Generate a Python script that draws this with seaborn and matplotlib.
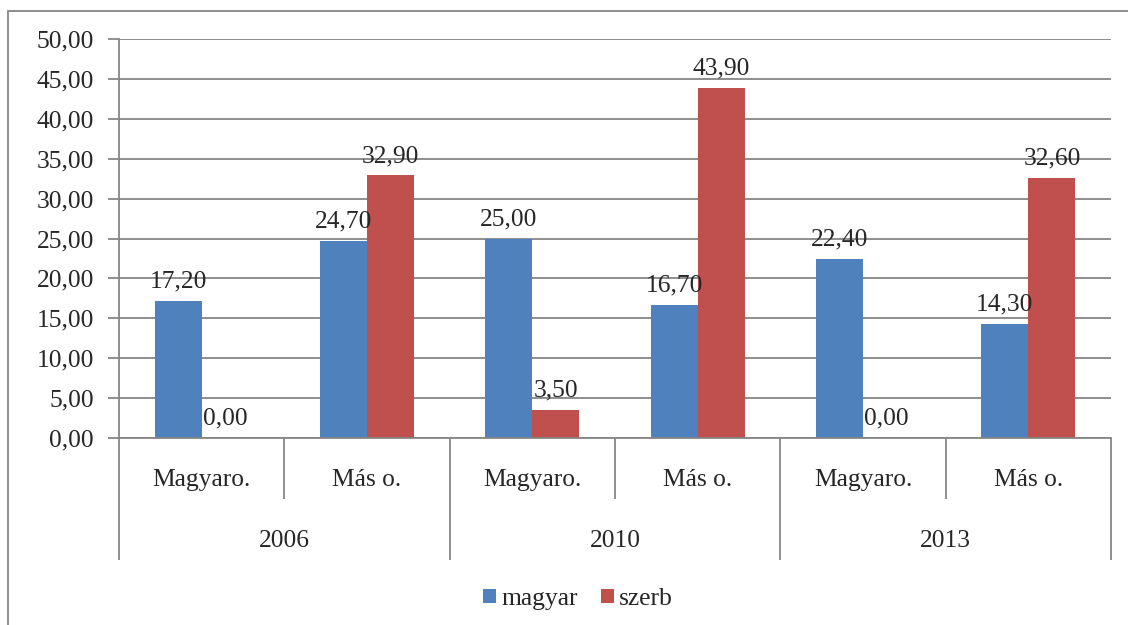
import pandas as pd
import numpy as np
import seaborn as sns
import matplotlib.pyplot as plt
from matplotlib.ticker import FuncFormatter, MultipleLocator
from matplotlib.patches import Rectangle
from matplotlib.transforms import blended_transform_factory

# adatok
years = ["2006", "2010", "2013"]
places = ["Magyaro.", "Más o."]
magyar = [17.20, 24.70, 25.00, 16.70, 22.40, 14.30]
szerb = [0.00, 32.90, 3.50, 43.90, 0.00, 32.60]

cats = [f"{y} {p}" for y in years for p in places]
df = pd.DataFrame({
    "kat": cats * 2,
    "ertek": magyar + szerb,
    "nyelv": ["magyar"] * len(cats) + ["szerb"] * len(cats),
})

sns.set_style("white")
plt.rcParams["font.family"] = ["Liberation Serif", "DejaVu Serif"]
plt.rcParams["font.size"] = 18.4

GRAY = "#868686"
fig = plt.figure(figsize=(11.28, 6.25), dpi=100)
ax = fig.add_axes([119 / 1128, 1 - 438 / 625, (1111 - 119) / 1128, (438 - 39) / 625])

sns.barplot(data=df, x="kat", y="ertek", hue="nyelv", order=cats,
            palette={"magyar": "#4F81BD", "szerb": "#C0504D"},
            saturation=1, width=0.57, linewidth=0, ax=ax)

fmt = lambda v: f"{v:.2f}".replace(".", ",")
for cont in ax.containers:
    ax.bar_label(cont, labels=[fmt(b.get_height()) for b in cont],
                 padding=6, fontsize=18.4)

ax.set_ylim(0, 50)
ax.set_xlim(-0.5, len(cats) - 0.5)
ax.yaxis.set_major_locator(MultipleLocator(5))
ax.yaxis.set_major_formatter(FuncFormatter(lambda v, p: fmt(v)))
ax.grid(axis="y", color=GRAY, lw=1.3)
ax.set_axisbelow(True)
ax.tick_params(axis="y", left=True, length=8, width=1.3, color=GRAY, pad=10, labelsize=18.4)
ax.set_xticks([])
ax.set_xlabel("")
ax.set_ylabel("")
for s in ["top", "right"]:
    ax.spines[s].set_visible(False)
for s in ["left", "bottom"]:
    ax.spines[s].set_color(GRAY)
    ax.spines[s].set_linewidth(1.3)

# tobbszintu kategoriatengely
tr = blended_transform_factory(ax.transData, ax.transAxes)
for i, c in enumerate(cats):
    ax.text(i, -0.106, c.split(" ", 1)[1], transform=tr, ha="center", va="center", fontsize=18.4)
for j, y in enumerate(years):
    ax.text(2 * j + 0.5, -0.258, y, transform=tr, ha="center", va="center", fontsize=18.4)
for k in range(len(cats) + 1):
    lo = -0.306 if k % 2 == 0 else -0.153
    ax.plot([k - 0.5, k - 0.5], [0, lo], transform=tr, color=GRAY, lw=1.3,
            clip_on=False, solid_capstyle="butt")

h, l = ax.get_legend_handles_labels()
ax.get_legend().remove()
fig.legend(h, l, loc="center", bbox_to_anchor=(578 / 1128, 1 - 599 / 625), ncol=2,
           frameon=False, handlelength=0.5, handleheight=0.5, handletextpad=0.2,
           columnspacing=0.9, fontsize=18.4)

fig.patches.append(Rectangle((8 / 1128, -0.1), 1.2, 1 - 11 / 625 + 0.1,
                             transform=fig.transFigure, fill=False,
                             edgecolor=GRAY, lw=1.3))

fig.savefig("out.png", dpi=100)
